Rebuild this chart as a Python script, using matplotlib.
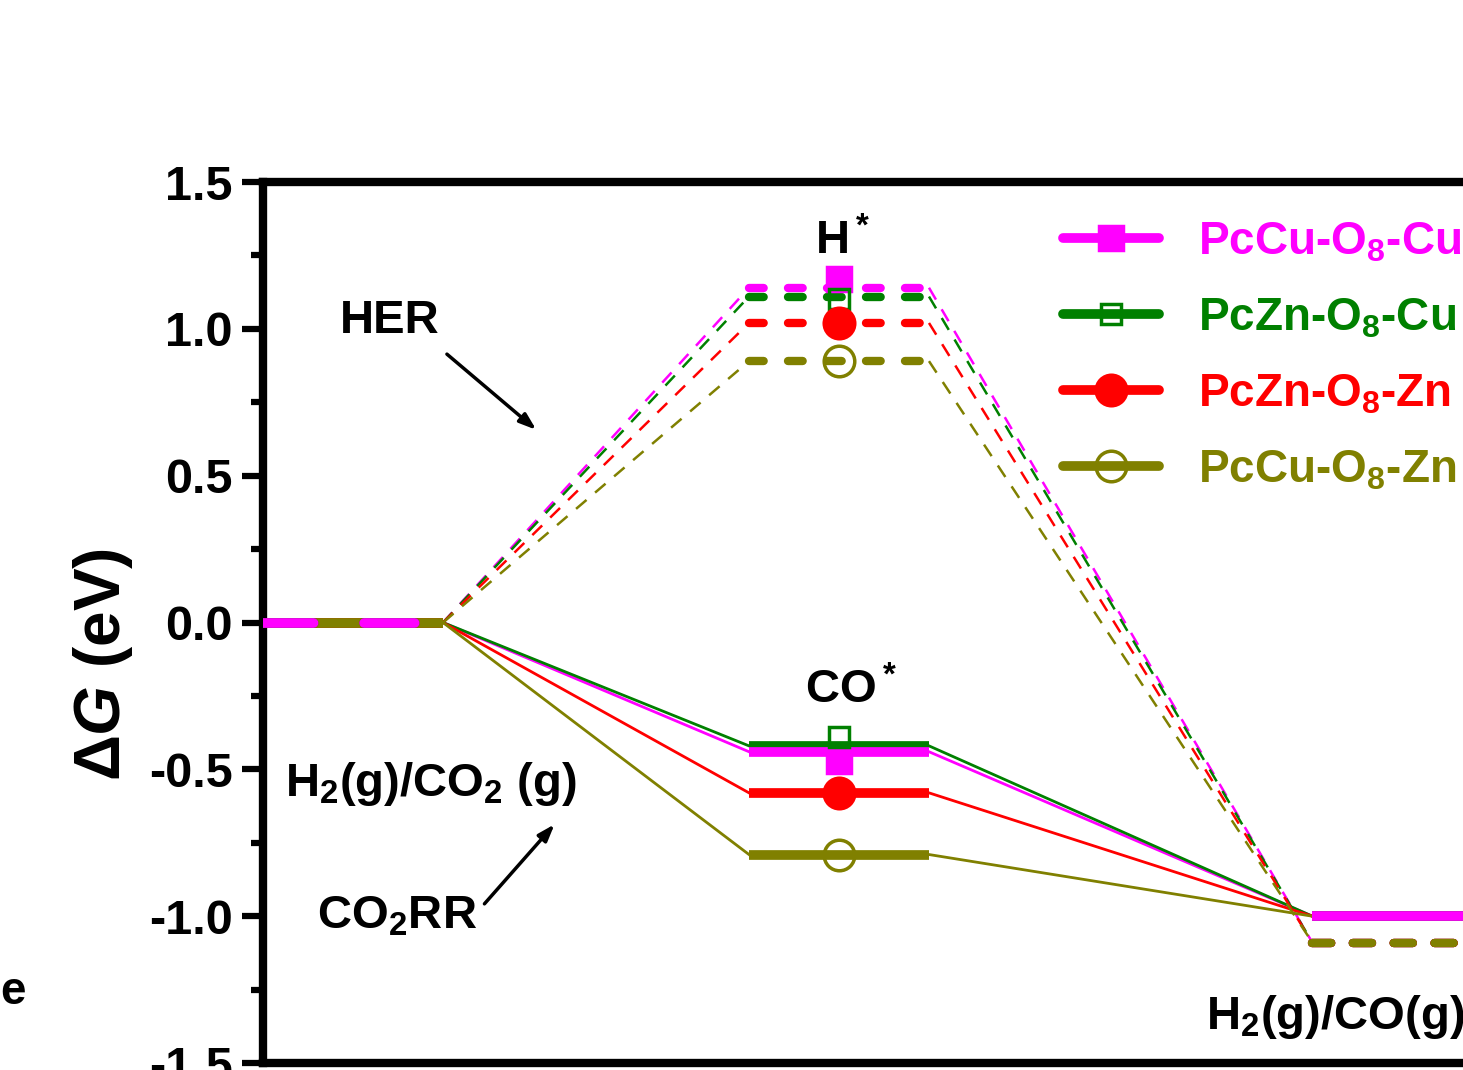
import numpy as np
import matplotlib
matplotlib.use('Agg')
import matplotlib.pyplot as plt
from matplotlib.lines import Line2D

plt.rcParams['font.family'] = 'Liberation Sans'
plt.rcParams['font.weight'] = 'bold'
plt.rcParams['mathtext.fontset'] = 'custom'
plt.rcParams['mathtext.rm'] = 'Liberation Sans:bold'
plt.rcParams['mathtext.it'] = 'Liberation Sans:italic:bold'
plt.rcParams['mathtext.bf'] = 'Liberation Sans:bold'

# data (eV)
names = [r'PcCu-O$_8$-Cu', r'PcZn-O$_8$-Cu', r'PcZn-O$_8$-Zn', r'PcCu-O$_8$-Zn']
colors = ['#ff00ff', '#008000', '#ff0000', '#808000']
markers = ['s', 's', 'o', 'o']
filled = [True, False, True, False]
g_start = [0.0, 0.0, 0.0, 0.0]
g_H = [1.14, 1.11, 1.02, 0.89]          # H* (HER)
g_CO = [-0.44, -0.42, -0.58, -0.79]     # CO* (CO2RR)
g_end_CO2RR = [-1.0, -1.0, -1.0, -1.0]
g_end_HER = [-1.09, -1.09, -1.09, -1.09]
mark_H = [1.17, 1.10, 1.02, 0.89]
mark_CO = [-0.47, -0.39, -0.58, -0.79]

# level spans along the reaction coordinate
lv = [(0.0, 1.0), (2.7, 3.7), (5.83, 6.83)]


def msize(i):
    if markers[i] == 's':
        return 17 if filled[i] else 14
    return 22


fig = plt.figure(figsize=(14.63, 10.70), dpi=100)
ax = fig.add_axes([263/1463, 0.0065, 1350/1463, 0.8234])
ax.set_xlim(0, 7.5)
ax.set_ylim(-1.5, 1.5)

n = len(names)
for i in range(n):
    c = colors[i]
    # HER path (dashed)
    ax.plot([lv[0][1], lv[1][0]], [g_start[i], g_H[i]], color=c, lw=1.8,
            ls=(0, (5.5, 4.5)), zorder=2)
    ax.plot([lv[1][1], lv[2][0]], [g_H[i], g_end_HER[i]], color=c, lw=1.8,
            ls=(0, (5.5, 4.5)), zorder=2)
    ax.plot(lv[1], [g_H[i]] * 2, color=c, lw=6, ls=(0, (1.76, 2.92)),
            dash_capstyle='round', zorder=3 + i * 0.1)
    # CO2RR path (solid)
    ax.plot([lv[0][1], lv[1][0]], [g_start[i], g_CO[i]], color=c, lw=2, zorder=2)
    ax.plot([lv[1][1], lv[2][0]], [g_CO[i], g_end_CO2RR[i]], color=c, lw=2, zorder=2)
    ax.plot(lv[1], [g_CO[i]] * 2, color=c, lw=7, solid_capstyle='butt',
            zorder=3 + (n - i) * 0.1)
    # initial state
    ax.plot(lv[0], [g_start[i]] * 2, color=c, lw=7, solid_capstyle='butt',
            zorder=3 + i * 0.1)
    ax.plot(lv[0], [g_start[i]] * 2, color=c, lw=7, ls=(0, (5.2, 5.2)),
            dash_capstyle='round', zorder=4 + (n - i) * 0.1)
    # final state
    ax.plot(lv[2], [g_end_CO2RR[i]] * 2, color=c, lw=7, solid_capstyle='butt',
            zorder=3 + (n - i) * 0.1)
    ax.plot(lv[2], [g_end_HER[i]] * 2, color=c, lw=6, ls=(0, (2.3, 2.6)),
            dash_capstyle='round', zorder=4 + i * 0.1)
    # markers
    ax.plot([sum(lv[1]) / 2] * 2, [mark_H[i], mark_CO[i]], ls='none',
            marker=markers[i], ms=msize(i), mfc=c if filled[i] else 'none',
            mec=c, mew=2.5, zorder=6)

# axes styling
for s in ['top', 'left', 'bottom']:
    ax.spines[s].set_linewidth(6)
ax.spines['right'].set_visible(False)
ax.set_yticks(np.arange(-1.5, 1.51, 0.5))
ax.set_yticks(np.arange(-1.5, 1.51, 0.25), minor=True)
ax.set_yticklabels(['-1.5', '-1.0', '-0.5', '0.0', '0.5', '1.0', '1.5'])
ax.tick_params(axis='y', which='major', direction='out', length=15, width=4.5,
               labelsize=35, pad=7)
ax.tick_params(axis='y', which='minor', direction='out', length=9, width=4.5)
ax.set_xticks([])
fig.text(103/1463, 1 - 665/1070, r'$\Delta\mathit{G}$ (eV)', fontsize=46,
         rotation=90, ha='center', va='center')

# annotations
arrow = dict(arrowstyle='-|>,head_length=1.0,head_width=0.35', lw=2.5, color='black')
ax.text(0.706, 1.026, 'HER', fontsize=34, ha='center', va='center')
ax.annotate('', xy=(1.53, 0.65), xytext=(1.01, 0.92), arrowprops=arrow)
ax.text(0.12, -0.59, r'H$_2$(g)/CO$_2$ (g)', fontsize=34, ha='left', va='baseline')
ax.text(0.30, -1.043, r'CO$_2$RR', fontsize=34, ha='left', va='baseline')
ax.annotate('', xy=(1.63, -0.68), xytext=(1.22, -0.965), arrowprops=arrow)
ax.text(3.22, 1.253, r'H$^*$', fontsize=34, ha='center', va='baseline')
ax.text(3.01, -0.277, r'CO$^*$', fontsize=34, ha='left', va='baseline')
ax.text(5.24, -1.383, r'H$_2$(g)/CO(g)', fontsize=34, ha='left', va='baseline')
fig.text(0.0, 1 - 992/1070, 'e', fontsize=33, ha='left', va='center')

# legend
handles = []
for i in range(n):
    handles.append(Line2D([], [], color=colors[i], lw=7, solid_capstyle='round',
                          marker=markers[i], ms=msize(i),
                          mfc=colors[i] if filled[i] else 'none',
                          mec=colors[i], mew=2.5))
leg = fig.legend(handles, names, loc='upper left',
                 bbox_to_anchor=(1063/1463, 1 - 220/1070),
                 frameon=False, fontsize=33, handlelength=2.1, handletextpad=0.85,
                 labelspacing=0.7, borderpad=0, borderaxespad=0)
for t, c in zip(leg.get_texts(), colors):
    t.set_color(c)

fig.savefig('out.png', dpi=100)
